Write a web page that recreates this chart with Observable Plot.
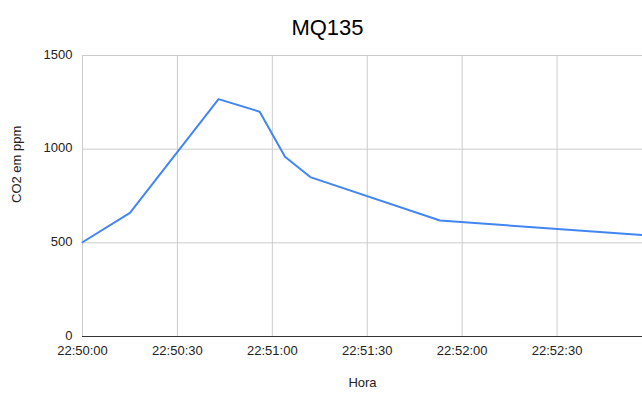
<!DOCTYPE html>
<html>
<head>
<meta charset="utf-8">
<script src="https://cdn.jsdelivr.net/npm/d3@7"></script>
<script src="https://cdn.jsdelivr.net/npm/@observablehq/plot@0.6"></script>
<style>
  html, body { margin: 0; padding: 0; background: #fff; }
  svg { display: block; }
</style>
</head>
<body>
<div id="chart"></div>
<script>
const titleText = "MQ135";
const xLabel = "Hora";
const yLabel = "CO2 em ppm";
const times = ["22:50:00", "22:50:15", "22:50:43", "22:50:56", "22:51:04", "22:51:12", "22:51:53", "22:52:57"];
const co2 = [503, 660, 1267, 1200, 960, 851, 619, 541];
const xTicks = ["22:50:00", "22:50:30", "22:51:00", "22:51:30", "22:52:00", "22:52:30"];
const yTicks = [0, 500, 1000, 1500];

const toDate = (t) => new Date(`2000-01-01T${t}Z`);
const data = times.map((t, i) => ({time: toDate(t), value: co2[i]}));
const fmt = d3.utcFormat("%H:%M:%S");
const font = "Liberation Sans, Arial, sans-serif";

const chart = Plot.plot({
  width: 642,
  height: 393,
  marginLeft: 82,
  marginRight: 0,
  marginTop: 55,
  marginBottom: 57,
  style: {fontFamily: font, fontSize: "13px", color: "#222", background: "#fff"},
  x: {type: "utc", domain: [toDate(times[0]), toDate(times[times.length - 1])]},
  y: {domain: [0, 1500]},
  marks: [
    Plot.gridX(xTicks.map(toDate), {stroke: "#ccc", strokeOpacity: 1, strokeWidth: 1}),
    Plot.gridY(yTicks.filter(d => d > 0), {stroke: "#ccc", strokeOpacity: 1, strokeWidth: 1}),
    Plot.axisX(xTicks.map(toDate), {tickSize: 0, tickPadding: 9, tickFormat: fmt, label: null, fill: "#222", fontSize: 13}),
    Plot.axisY(yTicks, {tickSize: 0, tickPadding: 10, dy: -1, tickFormat: d => String(d), label: null, fill: "#222", fontSize: 13}),
    Plot.ruleY([0], {stroke: "#333", strokeWidth: 1}),
    Plot.line(data, {x: "time", y: "value", stroke: "#4285F4", strokeWidth: 2, strokeLinejoin: "round"}),
    Plot.text([titleText], {frameAnchor: "top", dy: -28, dx: -35, fontSize: 22, fill: "#000", lineAnchor: "middle"}),
    Plot.text([xLabel], {frameAnchor: "bottom", dy: 46, fontSize: 13, fill: "#222", lineAnchor: "middle"}),
    Plot.text([yLabel], {frameAnchor: "left", dx: -66, dy: 7, rotate: -90, fontSize: 13, fill: "#222", lineAnchor: "middle"})
  ]
});
document.getElementById("chart").appendChild(chart);
</script>
</body>
</html>
